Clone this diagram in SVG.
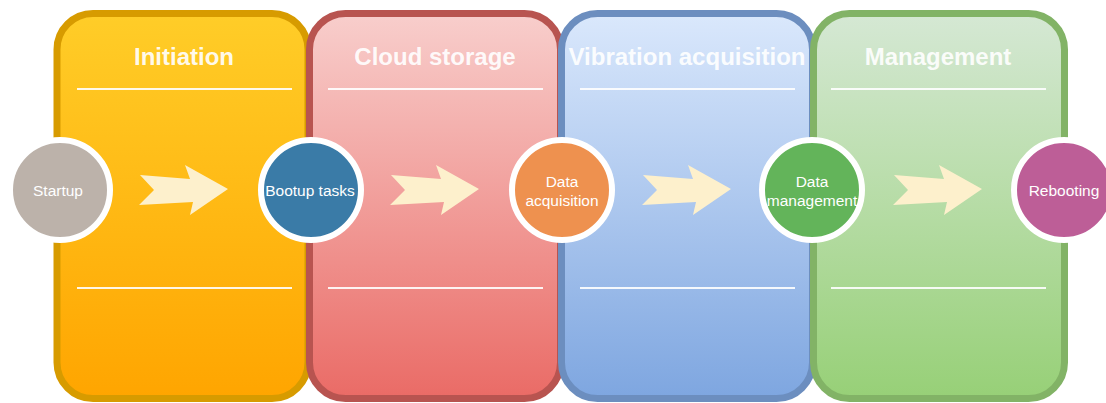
<svg xmlns="http://www.w3.org/2000/svg" width="1106" height="403" viewBox="0 0 1106 403">
  <defs>
    <linearGradient id="gYellow" x1="0" y1="0" x2="0" y2="1">
      <stop offset="0" stop-color="#ffcd28"/>
      <stop offset="1" stop-color="#ffa500"/>
    </linearGradient>
    <linearGradient id="gRed" x1="0" y1="0" x2="0" y2="1">
      <stop offset="0" stop-color="#f8cecc"/>
      <stop offset="1" stop-color="#ea6b66"/>
    </linearGradient>
    <linearGradient id="gBlue" x1="0" y1="0" x2="0" y2="1">
      <stop offset="0" stop-color="#dae8fc"/>
      <stop offset="1" stop-color="#7ea6e0"/>
    </linearGradient>
    <linearGradient id="gGreen" x1="0" y1="0" x2="0" y2="1">
      <stop offset="0" stop-color="#d5e8d4"/>
      <stop offset="1" stop-color="#97d077"/>
    </linearGradient>
    <polygon id="chevron" points="0,0 50,4 45,-10 88,14 50,40 53,27 -1,30 14,15"/>
  </defs>
  <style>
    .panel { stroke-width: 7; }
    .rule { stroke: #ffffff; stroke-width: 2; opacity: 0.9; }
    .title { font-family: "Liberation Sans", Arial, sans-serif; font-weight: bold; font-size: 24px; fill: #ffffff; fill-opacity: 0.92; text-anchor: middle; }
    .step { stroke: #ffffff; stroke-width: 6; }
    .label { font-family: "Liberation Sans", Arial, sans-serif; font-size: 15.5px; fill: #ffffff; text-anchor: middle; }
    .flow { fill: #fdf0cc; }
  </style>

  <!-- phase panels -->
  <g id="phase-initiation">
    <rect class="panel" x="57" y="13.5" width="251" height="385" rx="36" fill="url(#gYellow)" stroke="#d79b00"/>
    <line class="rule" x1="77" y1="89" x2="292" y2="89"/>
    <line class="rule" x1="77" y1="288" x2="292" y2="288"/>
    <text class="title" x="184" y="65">Initiation</text>
  </g>
  <g id="phase-cloud-storage">
    <rect class="panel" x="309.5" y="13.5" width="251" height="385" rx="36" fill="url(#gRed)" stroke="#b85450"/>
    <line class="rule" x1="328" y1="89" x2="543" y2="89"/>
    <line class="rule" x1="328" y1="288" x2="543" y2="288"/>
    <text class="title" x="435" y="65">Cloud storage</text>
  </g>
  <g id="phase-vibration-acquisition">
    <rect class="panel" x="561.5" y="13.5" width="251" height="385" rx="36" fill="url(#gBlue)" stroke="#6c8ebf"/>
    <line class="rule" x1="580" y1="89" x2="795" y2="89"/>
    <line class="rule" x1="580" y1="288" x2="795" y2="288"/>
    <text class="title" x="687" y="65">Vibration acquisition</text>
  </g>
  <g id="phase-management">
    <rect class="panel" x="813.5" y="13.5" width="251" height="385" rx="36" fill="url(#gGreen)" stroke="#82b366"/>
    <line class="rule" x1="831" y1="89" x2="1046" y2="89"/>
    <line class="rule" x1="831" y1="288" x2="1046" y2="288"/>
    <text class="title" x="938" y="65">Management</text>
  </g>

  <!-- connectors between steps -->
  <g id="connectors">
    <use href="#chevron" class="flow" x="140" y="175"/>
    <use href="#chevron" class="flow" x="391" y="175"/>
    <use href="#chevron" class="flow" x="643" y="175"/>
    <use href="#chevron" class="flow" x="894" y="175"/>
  </g>

  <!-- step nodes -->
  <g id="node-startup">
    <circle class="step" cx="60" cy="190" r="50" fill="#bcb2aa"/>
    <text class="label" x="58" y="196">Startup</text>
  </g>
  <g id="node-bootup-tasks">
    <circle class="step" cx="311" cy="190" r="50" fill="#3a7ba7"/>
    <text class="label" x="310" y="196">Bootup tasks</text>
  </g>
  <g id="node-data-acquisition">
    <circle class="step" cx="562" cy="190" r="50" fill="#ee914f"/>
    <text class="label" x="562" y="187">Data</text>
    <text class="label" x="562" y="206">acquisition</text>
  </g>
  <g id="node-data-management">
    <circle class="step" cx="812" cy="190" r="50" fill="#63b45a"/>
    <text class="label" x="812" y="187">Data</text>
    <text class="label" x="812" y="206">management</text>
  </g>
  <g id="node-rebooting">
    <circle class="step" cx="1064" cy="190" r="50" fill="#bd5e97"/>
    <text class="label" x="1064" y="196">Rebooting</text>
  </g>
</svg>
